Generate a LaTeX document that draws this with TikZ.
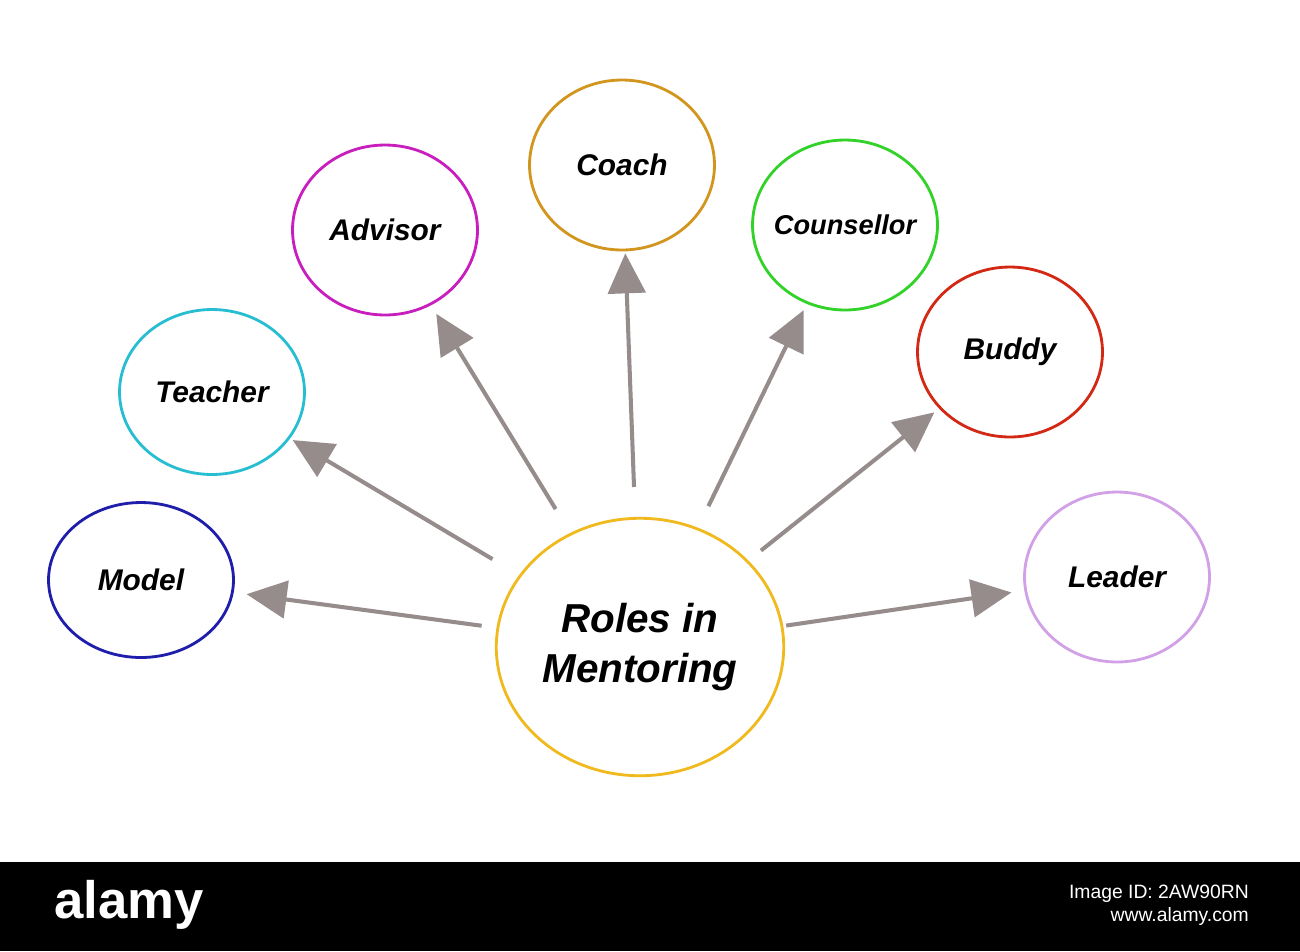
\documentclass[tikz,border=0pt]{standalone}
\usepackage{fontspec}
\setmainfont{Liberation Sans}
\usetikzlibrary{shapes.geometric,arrows.meta}
\definecolor{cmodel}{RGB}{30,30,170}
\definecolor{cteach}{RGB}{40,190,210}
\definecolor{cadv}{RGB}{200,30,190}
\definecolor{ccoach}{RGB}{210,150,30}
\definecolor{ccoun}{RGB}{50,210,40}
\definecolor{cbud}{RGB}{210,40,20}
\definecolor{clead}{RGB}{210,160,230}
\definecolor{ccent}{RGB}{240,185,30}
\definecolor{carr}{RGB}{150,140,140}
\tikzset{
 role/.style={ellipse,draw=#1,line width=1.6pt,inner sep=-20pt,minimum width=3.7cm,minimum height=3.4cm,font=\bfseries\itshape\fontsize{17}{20}\selectfont},
 arr/.style={draw=carr,line width=2.3pt,-{Triangle[length=0.8cm,width=0.75cm]}}
}
\begin{document}
\begin{tikzpicture}[x=0.02cm,y=-0.02cm]
\useasboundingbox (0,0) rectangle (1300,951);
\fill[white] (0,0) rectangle (1300,951);
\node[role=cmodel,minimum height=3.1cm] (model) at (141,580) {Model};
\node[role=cteach,minimum height=3.3cm] (teach) at (212,392) {Teacher};
\node[role=cadv] (adv) at (385,230) {Advisor};
\node[role=ccoach] (coach) at (622,165) {Coach};
\node[role=ccoun,font=\bfseries\itshape\fontsize{15.5}{18}\selectfont] (coun) at (845,225) {Counsellor};
\node[role=cbud] (bud) at (1010,352) {Buddy};
\node[role=clead] (lead) at (1117,577) {Leader};
\node[role=ccent,inner sep=0pt,minimum width=5.75cm,minimum height=5.15cm,align=center,font=\bfseries\itshape\fontsize{23}{28}\selectfont] (cen) at (640,647) {Roles in\\Mentoring};
\draw[arr,shorten <=0.3cm,shorten >=0.26cm] (cen) -- (model);
\draw[arr,shorten <=0.62cm,shorten >=0.06cm] (cen) -- (teach);
\draw[arr,shorten <=0.56cm,shorten >=0.2cm] (cen) -- (adv);
\draw[arr,shorten <=0.6cm,shorten >=0.04cm] (cen) -- (coach);
\draw[arr,shorten <=0.48cm,shorten >=0.14cm] (cen) -- (coun);
\draw[arr,shorten <=0.32cm,shorten >=0.12cm] (cen) -- (bud);
\draw[arr,shorten <=0.06cm,shorten >=0.26cm] (cen) -- (lead);
\fill[black] (0,862) rectangle (1300,951);
\node[white,font=\bfseries\fontsize{30}{32}\selectfont,anchor=west] (wm) at (48,905) {alamy};
\node[white,font=\fontsize{11}{13}\selectfont,anchor=east,align=right] (wid) at (1255,905) {Image ID: 2AW90RN\\www.alamy.com};
\end{tikzpicture}
\end{document}
